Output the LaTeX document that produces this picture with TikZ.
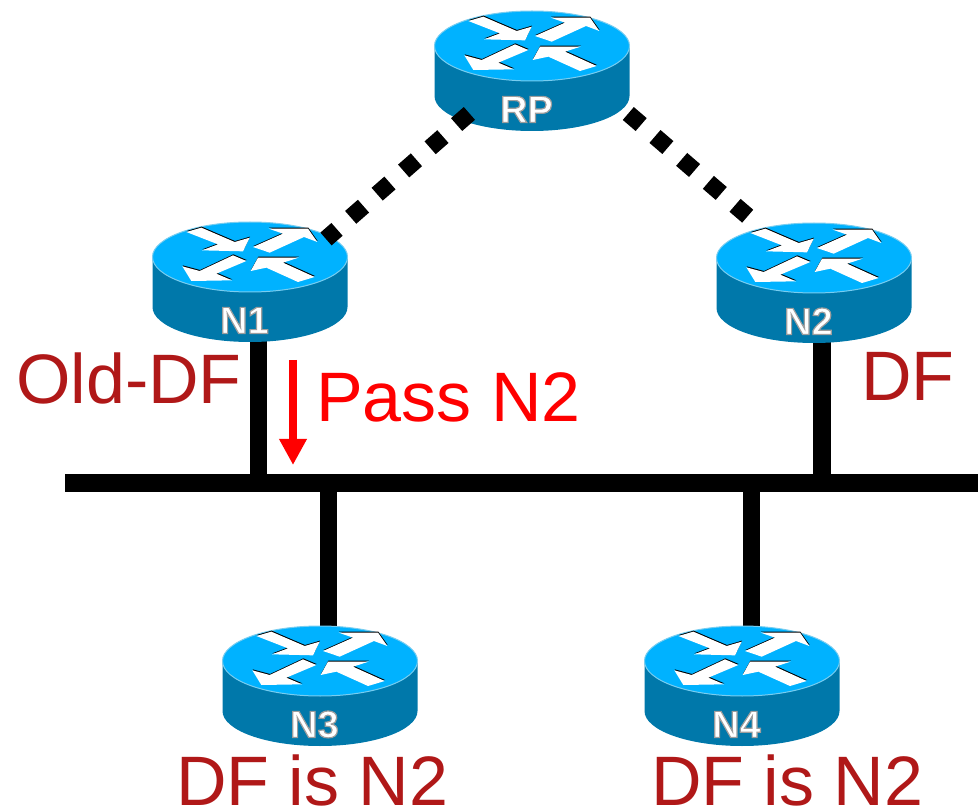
\documentclass[tikz,border=0pt]{standalone}
\usepackage{fontspec}
\setmainfont{Liberation Sans}
\usetikzlibrary{arrows.meta}
\definecolor{rtop}{RGB}{0,178,255}
\definecolor{rside}{RGB}{0,120,170}
\definecolor{rrim}{RGB}{120,205,240}
\definecolor{dfred}{RGB}{176,24,24}
\definecolor{passred}{RGB}{255,0,0}
\newcommand\arrowshapes[1]{%
  \fill[#1] (145,35)--(190,22)--(290,65)--(335,52)--(315,93)--(192,90)--(240,72)--cycle;
  \fill[#1] (345,80)--(435,40)--(392,25)--(510,25)--(538,65)--(498,50)--(395,97)--cycle;
  \fill[#1] (325,122)--(285,105)--(185,152)--(133,138)--(160,182)--(282,180)--(235,160)--cycle;
  \fill[#1] (338,152)--(360,112)--(482,112)--(435,127)--(530,170)--(480,185)--(385,142)--cycle;}
\newcommand\halotext[1]{\special{pdf:code q 2 Tr .62 G 1.2 w}#1\special{pdf:code Q}}
\newcommand\rtr[4]{%
  \begin{scope}[shift={(#2,#3)}]
    \fill[rside] (-97.5,0) -- (-97.5,50) arc[start angle=180,end angle=0,x radius=97.5,y radius=35] -- (97.5,0) -- cycle;
    \fill[rtop,draw=rrim,line width=1pt] (0,0) ellipse[x radius=97.5,y radius=35];
    \begin{scope}[scale=1/3,shift={(-336,-110)}]
      \begin{scope}[shift={(1,-3)}]\arrowshapes{black}\end{scope}
      \arrowshapes{white}
    \end{scope}
    \node[rlabel] (#1) at (-5.5,63) {\halotext{#4}};
  \end{scope}}
\tikzset{
  rlabel/.style={font=\fontsize{38}{38}\selectfont\bfseries,text=white,inner sep=0pt,text height=27pt,text depth=0pt},
  wire/.style={line width=17.5pt,black},
  dotlink/.style={line width=17pt,black,dash pattern=on 17pt off 18.2pt},
  dflabel/.style={anchor=base west,inner sep=0pt,text=dfred,text depth=0pt,font=\fontsize{70}{70}\selectfont},
  passlabel/.style={dflabel,text=passred},
  passarrow/.style={line width=8.7pt,passred,-{Triangle[length=26pt,width=26pt]}}
}
\begin{document}
\begin{tikzpicture}[x=1pt,y=-1pt]
\useasboundingbox (0,0) rectangle (978,810);
\coordinate (busL) at (65,483);
\coordinate (busR) at (978,483);
\coordinate (b1) at (258.5,483);
\coordinate (b2) at (822,483);
\coordinate (b3) at (328.5,483);
\coordinate (b4) at (751.5,483);
\coordinate (t1) at (258.5,335);
\coordinate (t2) at (822,335);
\coordinate (t3) at (328.5,640);
\coordinate (t4) at (751.5,640);
\coordinate (d1a) at (469.4,113.4);
\coordinate (d1b) at (326,239);
\coordinate (d2a) at (628.3,113.5);
\coordinate (d2b) at (747.7,216.2);
\coordinate (pa) at (293,360);
\coordinate (pb) at (293,465);
\draw[wire] (b1) -- (t1);
\draw[wire] (b2) -- (t2);
\draw[wire] (b3) -- (t3);
\draw[wire] (b4) -- (t4);
\draw[wire] (busL) -- (busR);
\rtr{rp}{532}{46}{RP}
\rtr{n1}{250}{257}{N1}
\rtr{n2}{814}{258}{N2}
\rtr{n3}{320}{661}{N3}
\rtr{n4}{742}{661}{N4}
\draw[dotlink] (d1a) -- (d1b);
\draw[dotlink] (d2a) -- (d2b);
\draw[passarrow] (pa) -- (pb);
\node[dflabel] (old) at (16,403) {Old-DF};
\node[passlabel] (pass) at (316,421) {Pass N2};
\node[dflabel] (df) at (861,401) {DF};
\node[dflabel] (l3) at (176,805) {DF is N2};
\node[dflabel] (l4) at (651,805) {DF is N2};
\end{tikzpicture}
\end{document}
